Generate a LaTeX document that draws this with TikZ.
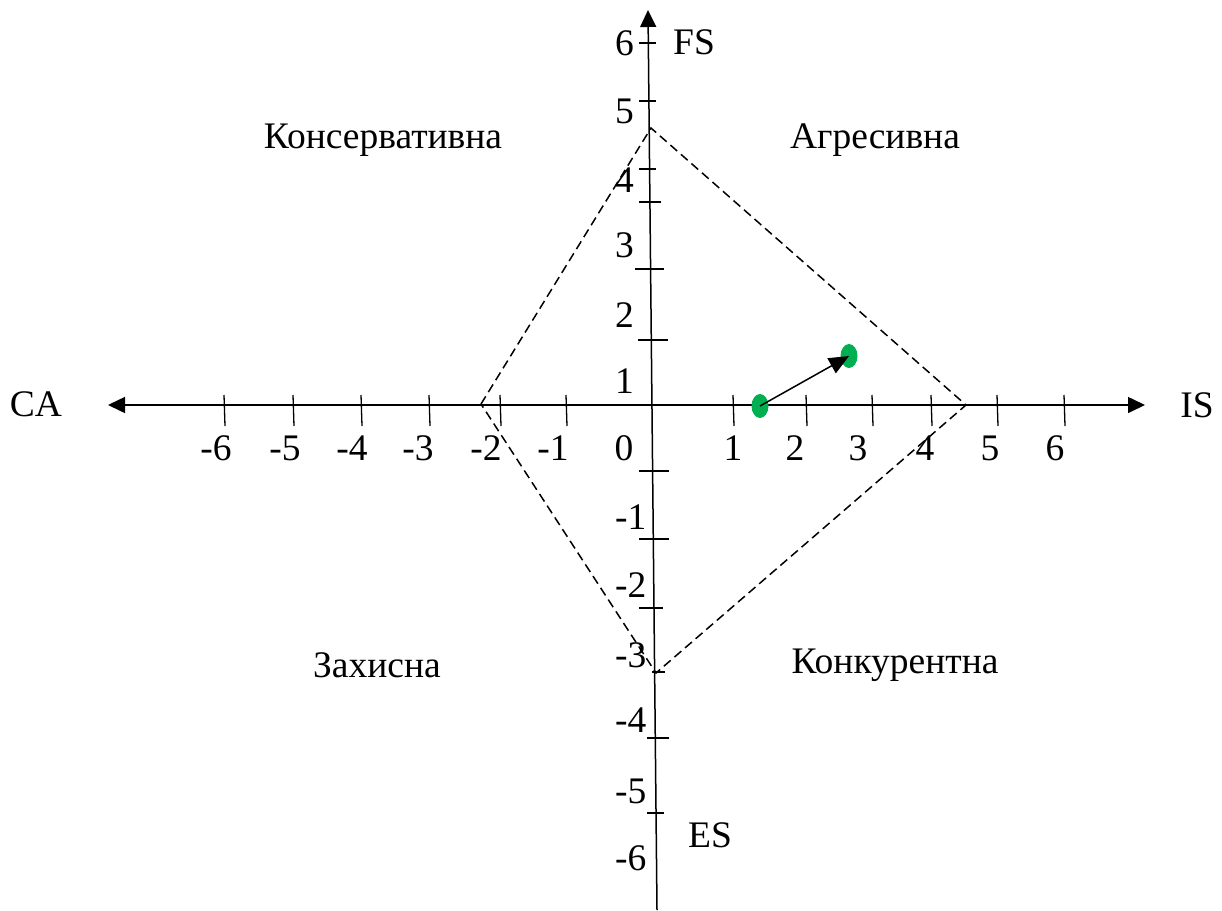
\documentclass[tikz,border=0pt]{standalone}
\usepackage{fontspec}
\setmainfont{Liberation Serif}
\usetikzlibrary{arrows.meta,shapes.geometric}
\definecolor{dotgreen}{RGB}{0,176,80}
\begin{document}
\begin{tikzpicture}[x=1pt,y=-1pt,
  axisline/.style={line width=1.5pt,black},
  tickline/.style={line width=1.3pt,black},
  diamondline/.style={line width=1.5pt,dash pattern=on 9pt off 5pt},
  lbl/.style={font=\fontsize{37.5}{42}\selectfont,inner sep=0pt},
  greendot/.style={ellipse,fill=dotgreen,draw=none,minimum width=17pt,minimum height=24pt,inner sep=0pt}]
\useasboundingbox (0,0) rectangle (1222,910);
% axis ends
\coordinate (xl) at (108,405);
\coordinate (xr) at (1145,405);
\coordinate (yt) at (648,10);
\coordinate (yb) at (657,910);
\draw[axisline,{Triangle[length=17pt,width=16pt]}-{Triangle[length=17pt,width=16pt]}] (xl) -- (xr);
\draw[axisline,-{Triangle[length=17pt,width=16pt]}] (yb) -- (yt);
% horizontal ticks
\foreach \x in {224,293,361,429,500,566,733,806,872,931,997,1064}
  \draw[tickline] (\x,395) -- (\x+1,426);
% vertical ticks
\foreach \y/\a/\b in {43/639/656,101/639/656,169/639/656,202/639/661,269/635/664,340/638/668,471/639/669,539/639/669,608/639/663,672/652/665,738/647/669,813/647/664}
  \draw[tickline] (\a,\y) -- (\b,\y);
% horizontal tick labels
\foreach \x/\t in {216/-6,285/-5,352/-4,418/-3,486/-2,553/-1,624/0,733/1,795/2,858/3,925/4,990/5,1055/6}
  \node[lbl] at (\x,448) {\t};
% vertical tick labels
\foreach \y/\t in {43/6,111/5,180/4,245/3,315/2,381/1,517/-1,585/-2,655/-3,720/-4,791/-5,858/-6}
  \node[lbl,anchor=west] at (615,\y) {\t};
% axis names
\node[lbl] (ca) at (36,404) {CA};
\node[lbl] (is) at (1197,405) {IS};
\node[lbl] (fs) at (694,42) {FS};
\node[lbl] (es) at (710,835) {ES};
% quadrant names
\node[lbl] (q1) at (383,140) {Консервативна};
\node[lbl] (q2) at (875,140) {Агресивна};
\node[lbl] (q3) at (377,665) {Захисна};
\node[lbl] (q4) at (895,665) {Конкурентна};
% diamond
\coordinate (dt) at (651,128);
\coordinate (dr) at (966,405);
\coordinate (db) at (656,673);
\coordinate (dl) at (481,404);
\draw[diamondline] (dl) -- (dt) -- (dr) -- (db) -- cycle;
% green dots and arrow
\node[greendot] (p1) at (760,406) {};
\node[greendot] (p2) at (849,356) {};
\draw[line width=1.5pt,-{Triangle[length=20pt,width=17pt]}] (p1.center) -- (p2.center);
\end{tikzpicture}
\end{document}
